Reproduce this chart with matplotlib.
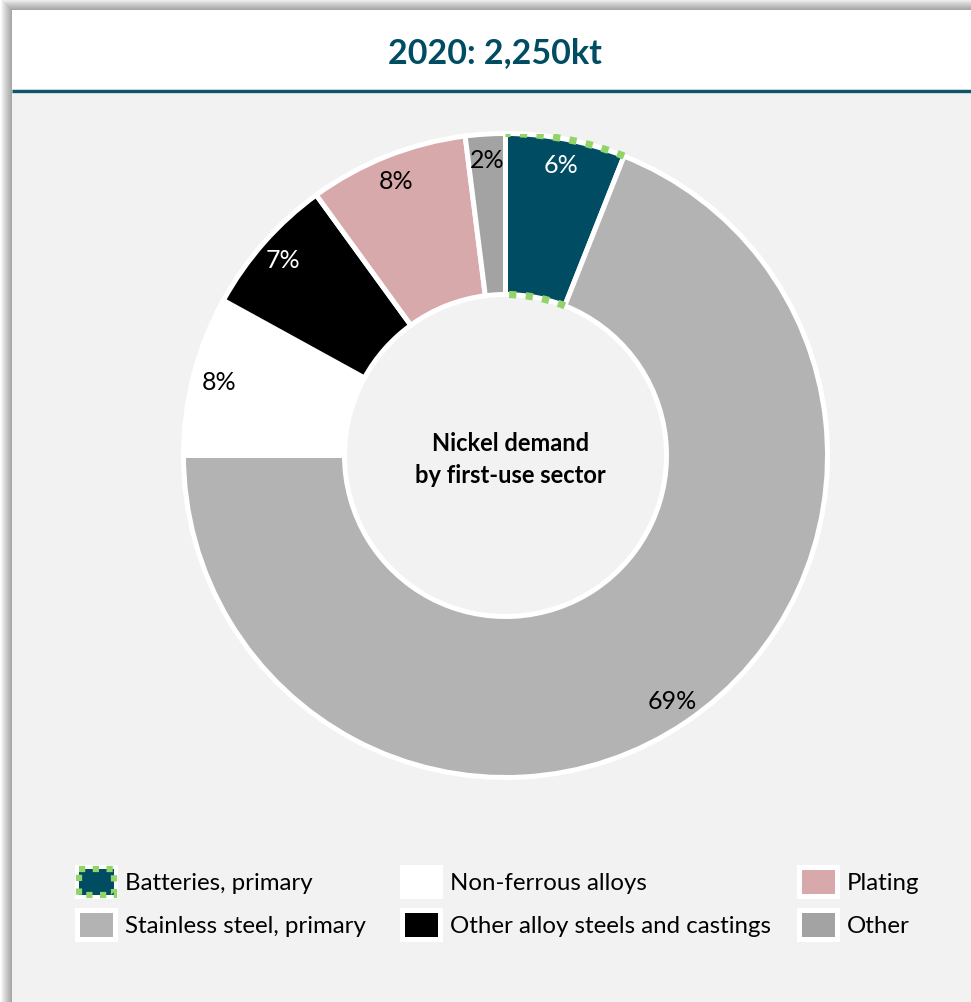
import numpy as np
import matplotlib.pyplot as plt
from matplotlib.patches import Rectangle

plt.rcParams['font.family'] = ['Lato', 'DejaVu Sans']

# nickel demand by first-use sector, 2020 (share of 2,250kt)
sectors = ['Batteries, primary', 'Stainless steel, primary', 'Non-ferrous alloys',
           'Other alloy steels and castings', 'Plating', 'Other']
shares = [6, 69, 8, 7, 8, 2]
colors = ['#004d63', '#b3b3b3', '#ffffff', '#000000', '#d8a9aa', '#a3a3a3']
label_colors = ['white', 'black', 'black', 'white', 'black', 'black']
title = '2020: 2,250kt'
centre_text = 'Nickel demand\nby first-use sector'

W, H = 971, 1003
teal = '#004d63'
green = '#92d36a'

fig = plt.figure(figsize=(W / 100, H / 100), dpi=100)
fig.patch.set_facecolor('white')

# pixel-space background axes
bg = fig.add_axes([0, 0, 1, 1])
bg.set_xlim(0, W)
bg.set_ylim(H, 0)
bg.axis('off')

# soft drop shadow on top / left of the panel
for i in range(12):
    bg.add_patch(Rectangle((12 - i, 11 - i), W + 20, H + 20, facecolor='black',
                           edgecolor='none', alpha=0.035, zorder=0))
bg.add_patch(Rectangle((12, 11), W, H, facecolor='#f2f2f2', edgecolor='none', zorder=1))
bg.add_patch(Rectangle((12, 11), W, 79, facecolor='white', edgecolor='none', zorder=2))
bg.plot([12, W], [91.5, 91.5], color='#0e5569', lw=2.4, zorder=3, solid_capstyle='butt')
bg.text(495, 53, title, ha='center', va='center', fontsize=24.5, fontweight='bold',
        color=teal, zorder=4)

# doughnut
cx, cy, R = 505.5, 456.5, 322
ax = fig.add_axes([(cx - R) / W, (H - cy - R) / H, 2 * R / W, 2 * R / H])
ax.patch.set_alpha(0)
wedges, _, autotexts = ax.pie(
    shares, colors=colors, startangle=90, counterclock=False, radius=1,
    autopct=lambda p: f'{p:.0f}%', pctdistance=0.92,
    wedgeprops=dict(width=0.5, edgecolor='white', linewidth=3.6),
    textprops=dict(fontsize=18))
for t, c in zip(autotexts, label_colors):
    t.set_color(c)
ax.set_xlim(-1, 1)
ax.set_ylim(-1, 1)
ax.set_aspect('auto')

# dashed green outline on the batteries arcs
w0 = wedges[0]
th = np.radians(np.linspace(w0.theta1, w0.theta2, 100))
for r in (1.0, 0.5):
    ax.plot(r * np.cos(th), r * np.sin(th), color=green, lw=5.2,
            linestyle=(0, (1.0, 1.3)), solid_capstyle='butt', zorder=5)

ax.text(0.015, -0.01, centre_text, ha='center', va='center', fontsize=17,
        fontweight='bold', linespacing=1.45)

# legend laid out in three columns, two rows
col_x = [75, 400, 797]
row_y = [883, 926]
order = [0, 2, 4, 1, 3, 5]
for k, idx in enumerate(order):
    x0 = col_x[k % 3]
    y0 = row_y[k // 3]
    bg.add_patch(Rectangle((x0, y0 - 17), 43, 34, facecolor='white',
                           edgecolor='none', zorder=3))
    if idx == 0:
        bg.add_patch(Rectangle((x0 + 4, y0 - 13), 35, 26, facecolor=colors[idx],
                               edgecolor=green, lw=4.5, linestyle=(0, (1.0, 1.2)),
                               zorder=4))
    else:
        bg.add_patch(Rectangle((x0 + 5, y0 - 12), 33, 24, facecolor=colors[idx],
                               edgecolor='none', zorder=4))
    bg.text(x0 + 50, y0 + 1, sectors[idx], ha='left', va='center',
            fontsize=17.3, zorder=4)

fig.savefig('out.png', dpi=100, facecolor=fig.get_facecolor())
